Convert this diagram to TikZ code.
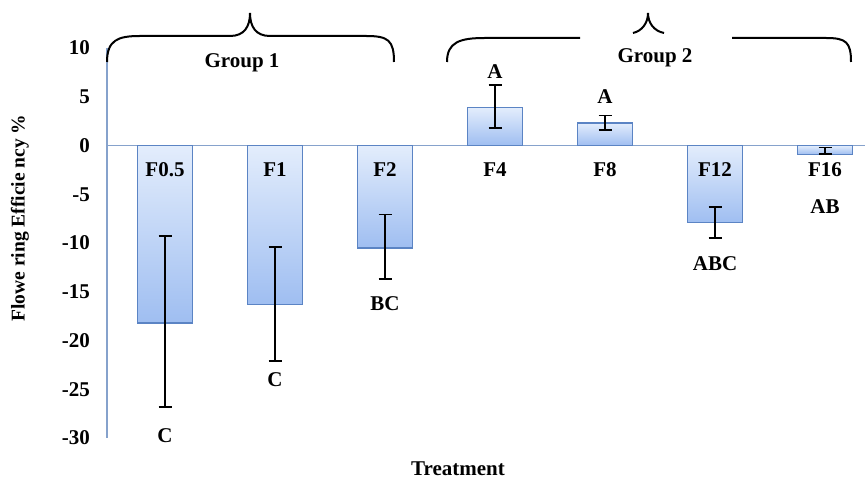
\documentclass[tikz,border=0pt]{standalone}
\usepackage{fontspec}
\setmainfont{Liberation Serif}
\usetikzlibrary{positioning}
\definecolor{barline}{HTML}{5B84C4}
\definecolor{barlight}{HTML}{E3EDFC}
\definecolor{bardark}{HTML}{9FBEF1}
\definecolor{axisline}{HTML}{86A2CC}
\tikzset{
    %Define style for texts
    lbl/.style={
           font=\fontsize{21}{21}\selectfont\bfseries,
           inner sep=0pt},
    %Define style for bars
    bar/.style={
           draw=barline, line width=1.5pt,
           top color=barlight, bottom color=bardark},
    % error bars and braces
    errbar/.style={black, line width=1.5pt},
    brace/.style={black, line width=2pt},
    axis/.style={axisline, line width=1.5pt}
}
\begin{document}
\begin{tikzpicture}[x=1pt,y=1pt]
\useasboundingbox (0,0) rectangle (865,479);
\begin{scope}[shift={(0,333.5)},y=9.75pt]
\draw[axis] (107,10) -- (107,-30);
\draw[axis] (107,0) -- (865,0);
\foreach \v [count=\i] in {10,5,...,-30}
  \node[lbl, anchor=east] (tick\i) at (90,\v) {\v};
\foreach \x/\v/\lo/\hi/\name/\grp/\ly [count=\i] in {
    165/-18.2/-9.3/-26.8/F0.5/C/-29.8,
    275/-16.3/-10.4/-22.1/F1/C/-24.05,
    385/-10.5/-7.1/-13.7/F2/BC/-16.26,
    495/3.9/6.2/1.8/F4/A/7.54,
    605/2.3/3.1/1.6/F8/A/4.97,
    715/-7.9/-6.3/-9.5/F12/ABC/-12.15,
    825/-0.9/-0.2/-0.85/F16/AB/-6.31}{
  \shade[bar] (\x-27.5,0) rectangle (\x+27.5,\v);
  \draw[errbar] (\x,\lo) -- (\x,\hi)
    (\x-6.5,\lo) -- (\x+6.5,\lo) (\x-6.5,\hi) -- (\x+6.5,\hi);
  \node[lbl] (cat\i) at (\x,-2.5) {\name};
  \node[lbl] (grp\i) at (\x,\ly) {\grp};
}
\end{scope}
% braces over the groups
\draw[brace] (107,417) .. controls (107,439) and (118,443) .. (140,443) -- (230,443)
  .. controls (244,443) and (250,452) .. (250,466)
  .. controls (250,452) and (256,443) .. (270,443) -- (366,443)
  .. controls (388,443) and (394,439) .. (394,417);
\draw[brace] (447,417) .. controls (447,437) and (460,441) .. (485,441) -- (580,441);
\draw[brace] (633,446) .. controls (642,448) and (648,456) .. (648,466)
  .. controls (648,456) and (654,448) .. (664,446);
\draw[brace] (732,441) -- (826,441) .. controls (846,441) and (851,437) .. (851,417);
\node[lbl, anchor=base] (group1) at (242,411) {Group 1};
\node[lbl, anchor=base] (group2) at (655,416) {Group 2};
\node[lbl, anchor=base] (xlabel) at (458,3) {Treatment};
\node[lbl, font=\fontsize{19.5}{19.5}\selectfont\bfseries, rotate=90] (ylabel) at (20,261) {Flowe ring Efficie ncy \%};
\end{tikzpicture}
\end{document}
